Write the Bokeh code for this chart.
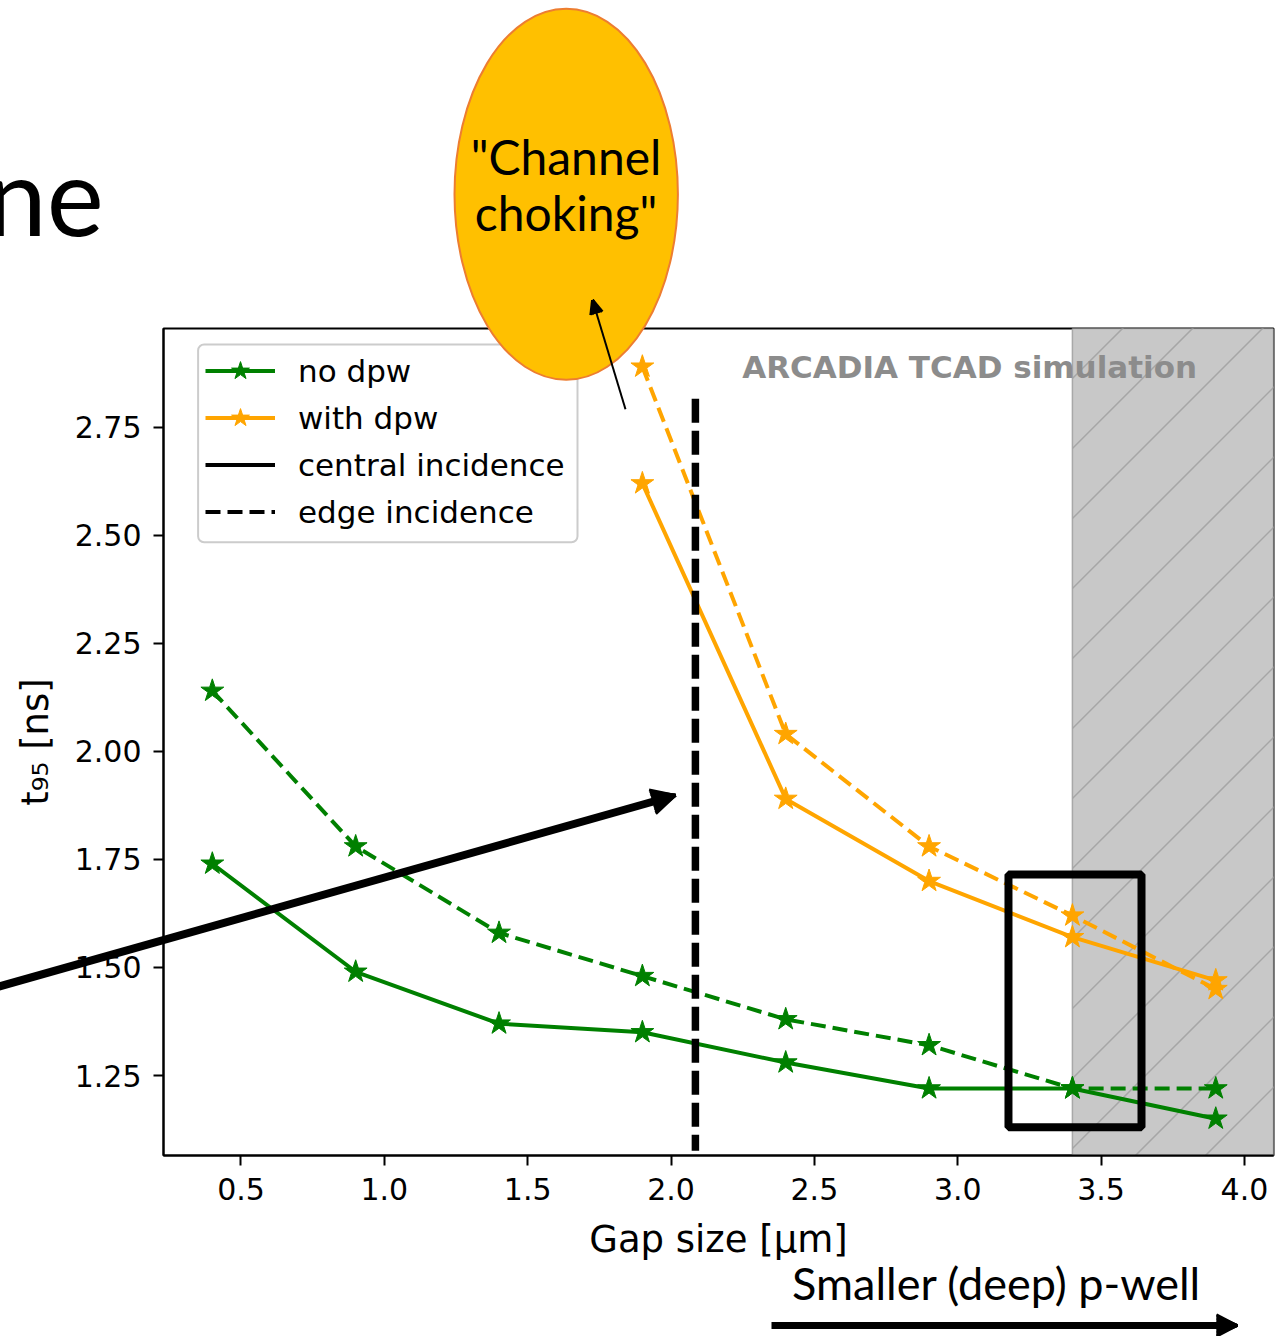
import math
import numpy as np
from bokeh.plotting import figure
from bokeh.models import (Range1d, FixedTicker, Legend, LegendItem, BoxAnnotation,
                          Label, Arrow, NumeralTickFormatter)
from bokeh.core.properties import value
from bokeh.embed import file_html
from bokeh.resources import INLINE

# ---------------- data ----------------
gap_no_dpw = [0.4, 0.9, 1.4, 1.9, 2.4, 2.9, 3.4, 3.9]
t95_no_dpw_central = [1.74, 1.49, 1.37, 1.35, 1.28, 1.22, 1.22, 1.15]
t95_no_dpw_edge = [2.14, 1.78, 1.58, 1.48, 1.38, 1.32, 1.22, 1.22]

gap_with_dpw = [1.9, 2.4, 2.9, 3.4, 3.9]
t95_with_dpw_central = [2.62, 1.89, 1.70, 1.57, 1.47]
t95_with_dpw_edge = [2.89, 2.04, 1.78, 1.62, 1.45]

x_ticks = [0.5, 1.0, 1.5, 2.0, 2.5, 3.0, 3.5, 4.0]
x_tick_labels = ["0.5", "1.0", "1.5", "2.0", "2.5", "3.0", "3.5", "4.0"]
y_ticks = [1.25, 1.5, 1.75, 2.0, 2.25, 2.5, 2.75]
y_tick_labels = ["1.25", "1.50", "1.75", "2.00", "2.25", "2.50", "2.75"]

excluded_gap_start = 3.4          # hatched region (gap >= 3.4 um)
choke_marker_x = 2.085            # dashed "channel choking" marker
choke_marker_y = [2.816, 1.076]
highlight_box = dict(left=3.177, right=3.641, bottom=1.130, top=1.715)

GREEN = "#008000"
ORANGE = "#ffa500"
DASH = "15 7"
LW = 4

# ---------------- geometry ----------------
W, H = 1286, 1336
FL, FR, FT, FB = 163, 1273, 328, 1155     # frame edges in canvas px
X0, X1 = 0.2297, 4.1014
Y0, Y1 = 1.0649, 2.9784
BASE_SHIFT = 0.43                         # baseline correction (fraction of font size)


def px2x(px):
    return X0 + (px - FL) * (X1 - X0) / (FR - FL)


def py2y(py):
    return Y1 - (py - FT) * (Y1 - Y0) / (FB - FT)


p = figure(width=W, height=H,
           x_range=Range1d(X0, X1), y_range=Range1d(Y0, Y1),
           output_backend="svg", toolbar_location=None,
           min_border_left=FL, min_border_right=W - FR,
           min_border_top=FT, min_border_bottom=H - FB,
           background_fill_color="white", border_fill_color="white")
p.grid.visible = False
p.outline_line_color = "black"
p.outline_line_width = 2

for ax in (p.xaxis[0], p.yaxis[0]):
    ax.major_tick_out = 10
    ax.major_tick_in = 0
    ax.minor_tick_out = 0
    ax.minor_tick_in = 0
    ax.major_tick_line_width = 2
    ax.axis_line_width = 2
    ax.major_label_text_font = "DejaVu Sans"
    ax.major_label_text_font_size = "30px"
    ax.major_label_text_color = "black"
    ax.major_label_standoff = 12
    ax.axis_label_text_font = "DejaVu Sans"
    ax.axis_label_text_font_size = "37px"
    ax.axis_label_text_font_style = "normal"
    ax.axis_label_text_color = "black"
    ax.axis_label_standoff = 15

p.xaxis.ticker = FixedTicker(ticks=x_ticks)
p.xaxis.formatter = NumeralTickFormatter(format="0.0")
p.xaxis.major_label_overrides = dict(zip(x_ticks, x_tick_labels))
p.yaxis.ticker = FixedTicker(ticks=y_ticks)
p.yaxis.formatter = NumeralTickFormatter(format="0.00")
p.yaxis.major_label_overrides = dict(zip(y_ticks, y_tick_labels))
p.xaxis.axis_label = "Gap size [\u03bcm]"
p.yaxis.axis_label = "t\u2089\u2085 [ns]"

# hatched region
p.add_layout(BoxAnnotation(left=excluded_gap_start, fill_color="#c8c8c8", fill_alpha=1,
                           line_color="#a8a8a8", line_alpha=1, line_width=1.5,
                           level="underlay"))
hx0 = FL + (excluded_gap_start - X0) / (X1 - X0) * (FR - FL)
hatch_xs, hatch_ys = [], []
for c in range(1380, 2500, 70):
    hatch_xs.append([px2x(hx0), px2x(FR + 20)])
    hatch_ys.append([py2y(c - hx0), py2y(c - FR - 20)])
p.multi_line(hatch_xs, hatch_ys, line_color="#a6a6a6", line_width=1.5)

# legend frame (drawn low so the ellipse overlay can cover it)
legend_frame = BoxAnnotation(left=px2x(197.6), right=px2x(577), top=py2y(344),
                             bottom=py2y(541.7), fill_color="white", fill_alpha=0.8,
                             line_color="#cccccc", line_alpha=1, line_width=2,
                             level="underlay")
try:
    legend_frame.border_radius = 6
except Exception:
    pass
p.add_layout(legend_frame)

# series
g_c = p.line(gap_no_dpw, t95_no_dpw_central, line_color=GREEN, line_width=LW)
g_e = p.line(gap_no_dpw, t95_no_dpw_edge, line_color=GREEN, line_width=LW, line_dash=DASH)
o_c = p.line(gap_with_dpw, t95_with_dpw_central, line_color=ORANGE, line_width=LW)
o_e = p.line(gap_with_dpw, t95_with_dpw_edge, line_color=ORANGE, line_width=LW, line_dash=DASH)
g_cs = p.scatter(gap_no_dpw, t95_no_dpw_central, marker="star", size=24, color=GREEN)
p.scatter(gap_no_dpw, t95_no_dpw_edge, marker="star", size=24, color=GREEN)
o_cs = p.scatter(gap_with_dpw, t95_with_dpw_central, marker="star", size=24, color=ORANGE)
p.scatter(gap_with_dpw, t95_with_dpw_edge, marker="star", size=24, color=ORANGE)

nan1 = np.array([np.nan])
central_dummy = p.line(x=nan1, y=nan1, line_color="black", line_width=LW)
edge_dummy = p.line(x=nan1, y=nan1, line_color="black", line_width=LW, line_dash=DASH)

legend = Legend(items=[
    LegendItem(label="no dpw", renderers=[g_c, g_cs]),
    LegendItem(label="with dpw", renderers=[o_c, o_cs]),
    LegendItem(label="central incidence", renderers=[central_dummy]),
    LegendItem(label="edge incidence", renderers=[edge_dummy]),
], location=(39, 617), glyph_width=70, glyph_height=47, label_height=47,
    spacing=0, padding=3, label_standoff=23,
    label_text_font="DejaVu Sans", label_text_font_size="31px",
    label_text_color="black",
    border_line_alpha=0, background_fill_alpha=0)
p.add_layout(legend)

p.add_layout(Label(x=2.248, y=py2y(380 - BASE_SHIFT * 31), text="ARCADIA TCAD simulation",
                   text_font="DejaVu Sans", text_font_style="bold",
                   text_font_size="31px", text_color="#8c8c8c",
                   text_baseline="alphabetic"))

# ---------------- slide overlays ----------------
p.add_layout(Arrow(start=None, end=None, x_start=choke_marker_x, y_start=choke_marker_y[0],
                   x_end=choke_marker_x, y_end=choke_marker_y[1],
                   line_color="black", line_width=7.5, line_dash="24 8"))

p.add_layout(BoxAnnotation(fill_alpha=0, line_color="black", line_alpha=1, line_width=8,
                           **highlight_box))


def overlay_arrow(x0, y0, x1, y1, lw, head_len, head_w, n=16):
    dx, dy = x1 - x0, y1 - y0
    L = math.hypot(dx, dy)
    ux, uy = dx / L, dy / L
    bx, by = x1 - ux * head_len, y1 - uy * head_len
    nx, ny = -uy, ux
    p.segment(x0=[px2x(x0)], y0=[py2y(y0)],
              x1=[px2x(bx + ux * 2)], y1=[py2y(by + uy * 2)],
              line_color="black", line_width=lw, level="overlay")
    # filled head drawn as a fan of thin segments (tip -> base points)
    fx0, fy0, fx1, fy1 = [], [], [], []
    for i in range(n):
        t = -0.5 + i / (n - 1)
        sx, sy = bx + nx * head_w * t, by + ny * head_w * t
        fx0.append(px2x(sx))
        fy0.append(py2y(sy))
        fx1.append(px2x(x1 - ux * 1.0))
        fy1.append(py2y(y1 - uy * 1.0))
    p.segment(x0=fx0, y0=fy0, x1=fx1, y1=fy1, line_color="black",
              line_width=max(1.5, 1.7 * head_w / (n - 1)), level="overlay")


def overlay_text(px, baseline_py, txt, size, align="left"):
    p.text(x=[px2x(px)], y=[py2y(baseline_py - BASE_SHIFT * size)], text=[txt],
           text_font=value("Lato"), text_font_size=value(f"{size}px"),
           text_color="black", text_align=align, text_baseline="alphabetic",
           level="overlay")


# thick arrow from the left
overlay_arrow(-12, 989, 676, 794.5, 8, 25, 25)

# ellipse "Channel choking"
ecx, ecy, erx, ery = 565.7, 193.8, 111.7, 185.5
p.ellipse(x=[px2x(ecx)], y=[py2y(ecy)],
          width=[2 * erx * (X1 - X0) / (FR - FL)], height=[2 * ery * (Y1 - Y0) / (FB - FT)],
          fill_color="#ffc000", line_color="#ed7d31", line_width=2, level="overlay")
overlay_text(565.5, 176.7, "\"Channel", 48, "center")
overlay_text(565.5, 233.0, "choking\"", 48, "center")

# thin arrow into the ellipse
overlay_arrow(625, 408.8, 591.7, 298.6, 2, 15, 12, n=8)

# cut-off slide title
overlay_text(-14, 240, "ne", 108)

# bottom caption and arrow
overlay_text(791.6, 1301.7, "Smaller (deep) p-well", 45)
overlay_arrow(771, 1325, 1238, 1325, 7, 22, 22)

open("out.html", "w").write(file_html(p, INLINE))
